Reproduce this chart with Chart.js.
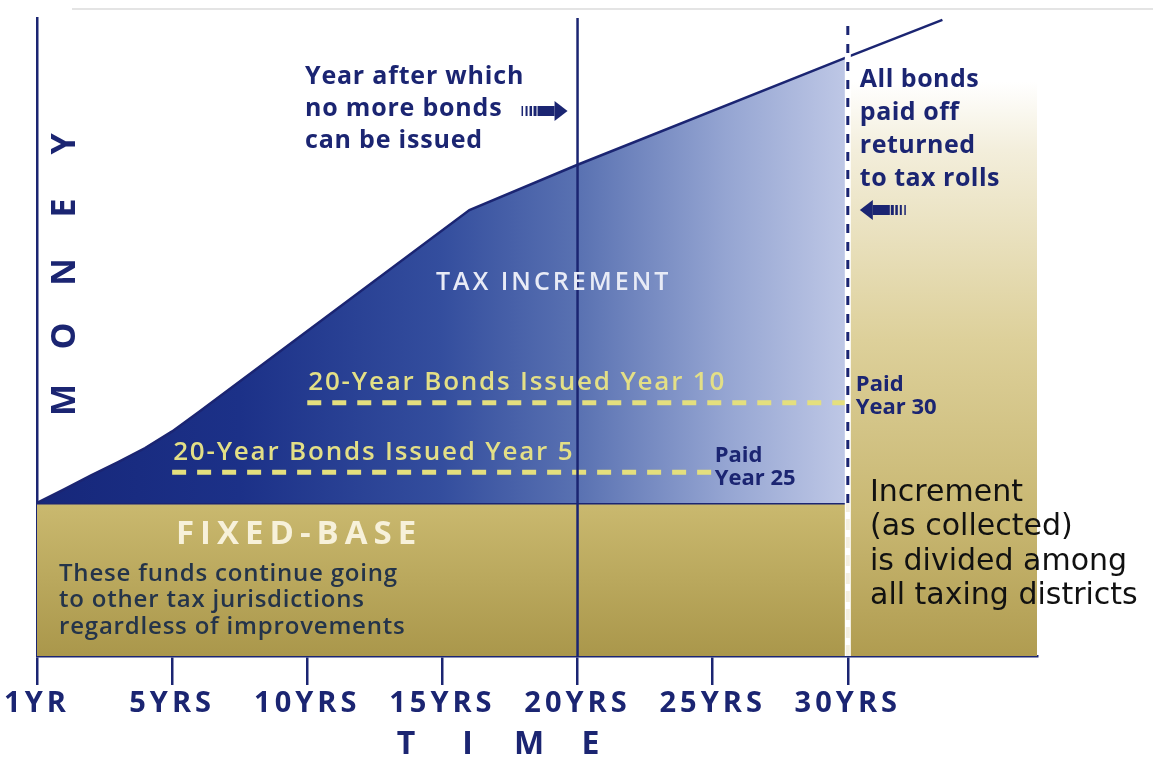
<!DOCTYPE html>
<html>
<head>
<meta charset="utf-8">
<script src="https://cdn.jsdelivr.net/npm/chart.js@4.4.1/dist/chart.umd.min.js"></script>
<style>
  html, body { margin: 0; padding: 0; background: #fff; }
  #wrap { width: 1153px; height: 763px; position: relative; }
</style>
</head>
<body>
<div id="wrap"><canvas id="tif"></canvas></div>
<script>
// time axis (years) and its captions
const years = [0, 5, 10, 15, 20, 25, 30];
const yearLabels = ['1YR', '5YRS', '10YRS', '15YRS', '20YRS', '25YRS', '30YRS'];

// assessed value: frozen base and the growing increment above it
const fixedBase = 24;
const incrementYears = [0, 1, 2, 3, 4, 5, 6, 16, 20, 30];
const incrementMoney = [24, 26.1, 28.3, 30.4, 32.6, 35.2, 38.3, 69.9, 77.0, 93.9];
const trendYears = [30, 33.5];
const trendMoney = [93.9, 99.7];

// bond issues paid from the increment
const bondIssued = [5, 10];
const bondPaid = [25, 30];
const bondMoney = [28.8, 39.7];

const lastIssueYear = 20;
const payoffYear = 30;
const returnedTop = 90;
const xMax = 37;
const yMax = 100;

const NAVY = '#1b2572';

const pts = (xs, ys) => xs.map((x, i) => ({ x: x, y: ys[i] }));

function blueFill(c) {
  const chart = c.chart;
  if (!chart.chartArea) return '#2a3c8a';
  const xs = chart.scales.x;
  const g = chart.ctx.createLinearGradient(xs.getPixelForValue(0), 0, xs.getPixelForValue(payoffYear), 0);
  g.addColorStop(0, '#16277a');
  g.addColorStop(0.25, '#1c3188');
  g.addColorStop(0.5, '#344e9e');
  g.addColorStop(0.67, '#5a72b2');
  g.addColorStop(0.85, '#95a5d2');
  g.addColorStop(1, '#bfc8e6');
  return g;
}

function goldFill(c) {
  const chart = c.chart;
  if (!chart.chartArea) return '#bcaa60';
  const ys = chart.scales.y;
  const g = chart.ctx.createLinearGradient(0, ys.getPixelForValue(fixedBase), 0, ys.getPixelForValue(0));
  g.addColorStop(0, '#cab96f');
  g.addColorStop(1, '#aa974b');
  return g;
}

function returnedFill(c) {
  const chart = c.chart;
  if (!chart.chartArea) return '#d8ca90';
  const ys = chart.scales.y;
  const g = chart.ctx.createLinearGradient(0, ys.getPixelForValue(returnedTop), 0, ys.getPixelForValue(0));
  g.addColorStop(0, 'rgba(255,255,255,1)');
  g.addColorStop(0.12, '#f3eedb');
  g.addColorStop(0.45, '#ddd09a');
  g.addColorStop(0.75, '#c9b873');
  g.addColorStop(1, '#b09c50');
  return g;
}

// small striped block arrow, dir = 1 points right, -1 points left
function arrow(ctx, tipX, y, dir) {
  ctx.save();
  ctx.fillStyle = NAVY;
  const stripes = [[46, 1.5], [42, 2], [38, 2.5], [34, 3]];
  stripes.forEach(([off, w]) => {
    ctx.fillRect(tipX - dir * off - (dir > 0 ? 0 : w), y - 5, w, 10);
  });
  const bodyStart = tipX - dir * 30;
  const headStart = tipX - dir * 13;
  ctx.fillRect(Math.min(bodyStart, headStart), y - 5, Math.abs(headStart - bodyStart), 10);
  ctx.beginPath();
  ctx.moveTo(headStart, y - 10);
  ctx.lineTo(tipX, y);
  ctx.lineTo(headStart, y + 10);
  ctx.closePath();
  ctx.fill();
  ctx.restore();
}

function lines(ctx, list, x, y, step, font, color, spacing) {
  ctx.save();
  ctx.font = font;
  ctx.fillStyle = color;
  ctx.textAlign = 'left';
  ctx.textBaseline = 'middle';
  ctx.letterSpacing = spacing || '0px';
  list.forEach((t, i) => ctx.fillText(t, x, y + i * step));
  ctx.restore();
}

function spaced(ctx, text, cx, cy, step, font, color, rotate) {
  ctx.save();
  ctx.font = font;
  ctx.fillStyle = color;
  ctx.textAlign = 'center';
  ctx.textBaseline = 'middle';
  ctx.translate(cx, cy);
  if (rotate) ctx.rotate(-Math.PI / 2);
  [...text].forEach((ch, i) => ctx.fillText(ch, i * step, 0));
  ctx.restore();
}

const captions = {
  id: 'captions',
  beforeDraw(chart) {
    const ctx = chart.ctx;
    ctx.save();
    ctx.fillStyle = '#e4e4e4';
    ctx.fillRect(72, 8, 1081, 2);
    ctx.restore();
    // tick captions are spaced out a little
    ctx.letterSpacing = '4px';
  },
  beforeDatasetsDraw(chart) {
    chart.ctx.letterSpacing = '0px';
  },
  afterDatasetsDraw(chart) {
    const ctx = chart.ctx;
    const xs = chart.scales.x, ys = chart.scales.y;
    const X = v => xs.getPixelForValue(v);
    const Y = v => ys.getPixelForValue(v);

    lines(ctx, ['Year after which', 'no more bonds', 'can be issued'], 305, 77, 32,
      'bold 25px "Open Sans"', NAVY, '0.8px');
    arrow(ctx, X(lastIssueYear) - 10, 111, 1);

    lines(ctx, ['All bonds', 'paid off', 'returned', 'to tax rolls'], X(payoffYear) + 12, 80, 33,
      'bold 25px "Open Sans"', NAVY, '0.5px');
    arrow(ctx, X(payoffYear) + 12, 210, -1);

    ctx.save();
    ctx.font = '600 25px "Open Sans"';
    ctx.letterSpacing = '3px';
    ctx.fillStyle = '#e8ebf6';
    ctx.textAlign = 'left';
    ctx.textBaseline = 'middle';
    ctx.fillText('TAX INCREMENT', 436, 283);
    ctx.restore();

    bondIssued.forEach((yr, i) => {
      lines(ctx, ['20-Year Bonds Issued Year ' + yr], X(yr) + 1, Y(bondMoney[i]) - 20, 0,
        '600 26px "Open Sans"', '#e3df86', '1.8px');
      lines(ctx, ['Paid', 'Year ' + bondPaid[i]], X(bondPaid[i]) + (i ? 8 : 2), Y(bondMoney[i]) - 17 + (i ? -1 : 0), 23,
        'bold 22px "Open Sans"', NAVY);
    });

    lines(ctx, ['FIXED-BASE'], 176, 535, 0, 'bold 33px "Open Sans"', '#f7f1da', '6px');
    lines(ctx, ['These funds continue going', 'to other tax jurisdictions', 'regardless of improvements'],
      59, 574, 26.5, '600 24px "Open Sans"', '#24344a', '0.8px');

    lines(ctx, ['Increment', '(as collected)', 'is divided among', 'all taxing districts'],
      870, 493, 34.5, '30px "DejaVu Sans"', '#111111');

    spaced(ctx, 'MONEY', 65, 400, 64, 'bold 34px "Open Sans"', NAVY, true);
    spaced(ctx, 'TIME', 406, 745, 61.5, 'bold 32px "Open Sans"', NAVY, false);
  }
};

const line = (data, extra) => Object.assign({
  data: data,
  pointRadius: 0,
  borderWidth: 0,
  fill: false,
  tension: 0
}, extra);

const chart = new Chart(document.getElementById('tif'), {
  type: 'line',
  data: {
    datasets: [
      // fixed base below the frozen assessed value
      line(pts([0, payoffYear], [fixedBase, fixedBase]), {
        fill: 'origin', backgroundColor: goldFill, borderColor: NAVY, borderWidth: 3, order: 9
      }),
      // increment returned to the tax rolls after payoff
      line(pts([payoffYear, xMax], [returnedTop, returnedTop]), {
        fill: 'origin', backgroundColor: returnedFill, order: 10
      }),
      // tax increment captured by the district
      line(pts(incrementYears, incrementMoney), {
        fill: { value: fixedBase }, backgroundColor: blueFill, borderColor: NAVY, borderWidth: 2.5, order: 8
      }),
      line(pts(trendYears, trendMoney), { borderColor: NAVY, borderWidth: 2.5, order: 7 }),
      // bond terms
      line(pts([bondIssued[0], bondPaid[0]], [bondMoney[0], bondMoney[0]]), {
        borderColor: '#e4df7e', borderWidth: 5, borderDash: [14, 11], order: 5
      }),
      line(pts([bondIssued[1], bondPaid[1]], [bondMoney[1], bondMoney[1]]), {
        borderColor: '#e4df7e', borderWidth: 5, borderDash: [14, 11], order: 5
      }),
      // last year bonds may be issued
      line(pts([lastIssueYear, lastIssueYear], [0, yMax]), { borderColor: NAVY, borderWidth: 2.5, order: 4 }),
      // payoff year marker
      line(pts([payoffYear, payoffYear], [0, yMax]), { borderColor: '#ffffff', borderWidth: 6, order: 3 }),
      line(pts([payoffYear, payoffYear], [0, fixedBase]), {
        borderColor: '#f4efe0', borderWidth: 4, borderDash: [11, 7], order: 2
      }),
      line(pts([payoffYear, payoffYear], [fixedBase, yMax]), {
        borderColor: NAVY, borderWidth: 3, borderDash: [9, 9], order: 1
      })
    ]
  },
  options: {
    responsive: true,
    maintainAspectRatio: false,
    animation: false,
    layout: { padding: { top: 18, right: 116, left: 0, bottom: 0 } },
    plugins: { legend: { display: false }, tooltip: { enabled: false } },
    scales: {
      x: {
        type: 'linear',
        min: 0,
        max: xMax,
        afterBuildTicks: s => { s.ticks = years.map(v => ({ value: v })); },
        afterFit: s => { s.height = 107; },
        grid: { drawOnChartArea: false, drawTicks: true, tickLength: 29, color: NAVY, lineWidth: 2.5 },
        border: { display: true, color: NAVY, width: 2.5 },
        ticks: {
          color: NAVY,
          autoSkip: false,
          maxRotation: 0,
          padding: 1,
          font: { family: 'Open Sans', size: 29, weight: 'bold' },
          callback: (v, i) => yearLabels[i]
        }
      },
      y: {
        type: 'linear',
        min: 0,
        max: yMax,
        afterFit: s => { s.width = 37; },
        ticks: { display: false },
        grid: { display: false },
        border: { display: true, color: NAVY, width: 2.5 }
      }
    }
  },
  plugins: [captions]
});
</script>
</body>
</html>
